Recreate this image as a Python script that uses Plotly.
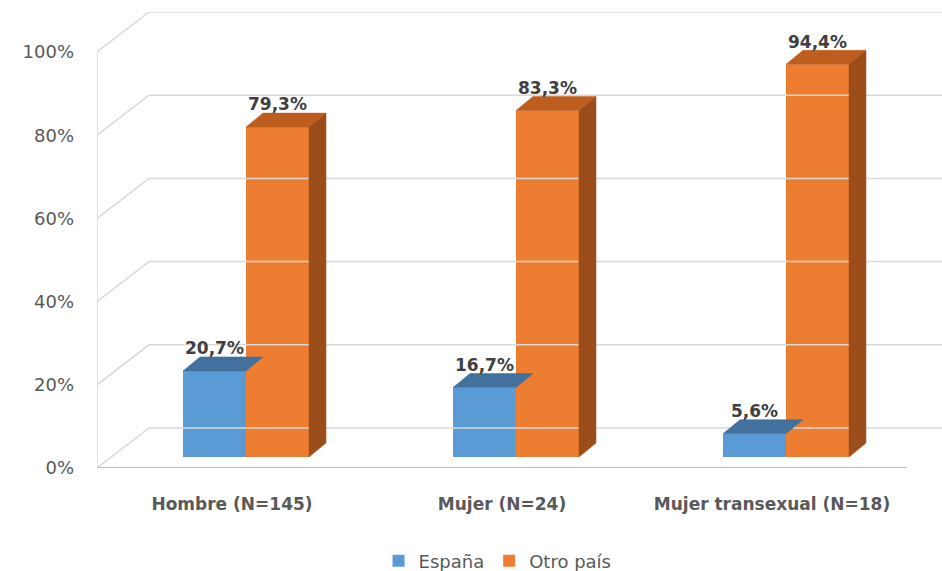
import plotly.graph_objects as go

categories = ["Hombre (N=145)", "Mujer (N=24)", "Mujer transexual (N=18)"]
espana = [20.7, 16.7, 5.6]
otro = [79.3, 83.3, 94.4]
espana_labels = ["20,7%", "16,7%", "5,6%"]
otro_labels = ["79,3%", "83,3%", "94,4%"]
y_ticks = [0, 20, 40, 60, 80, 100]

# geometry (axis units)
PX_Y = 4.16          # px per percent
PX_X = 270.0         # px per category
wall_dx, wall_dy = 52 / PX_X, 40 / PX_Y
bar_dx, bar_dy = 17 / PX_X, 14 / PX_Y
bar_shift_x, bar_base = 14 / PX_X, 11 / PX_Y
bar_w = 63 / PX_X

BLUE, BLUE_TOP = "#5B9BD5", "#41719C"
OR, OR_TOP, OR_SIDE = "#ED7D31", "#BE5E1E", "#9C4E1A"
GRID = "#D9D9D9"
FONT = "DejaVu Sans"

fig = go.Figure()

# walls / gridlines
x_left, x_right = -0.5, 2.5
for v in y_ticks:
    fig.add_trace(go.Scatter(x=[x_left, x_left + wall_dx, x_right + wall_dx + 0.5],
                             y=[v, v + wall_dy, v + wall_dy], mode="lines",
                             line=dict(color=GRID, width=1.5), hoverinfo="skip", showlegend=False))
fig.add_trace(go.Scatter(x=[x_left, x_left], y=[0, 100], mode="lines",
                         line=dict(color=GRID, width=1.5), hoverinfo="skip", showlegend=False))

n = len(categories)
xb = [i + bar_shift_x - 0.5 * bar_w for i in range(n)]
xo = [i + bar_shift_x + 0.5 * bar_w for i in range(n)]

fig.add_trace(go.Bar(x=xb, y=espana, base=bar_base, width=bar_w, name="España",
                     marker=dict(color=BLUE, line=dict(width=0))))
fig.add_trace(go.Bar(x=xo, y=otro, base=bar_base, width=bar_w, name="Otro país",
                     marker=dict(color=OR, line=dict(width=0))))

def poly(xs, ys, color):
    fig.add_trace(go.Scatter(x=xs + [xs[0]], y=ys + [ys[0]], fill="toself", fillcolor=color,
                             mode="lines", line=dict(color=color, width=0.5),
                             hoverinfo="skip", showlegend=False))

for i in range(n):
    # blue top
    l, r = xb[i] - bar_w / 2, xb[i] + bar_w / 2
    t = espana[i] + bar_base
    poly([l, r, r + bar_dx, l + bar_dx], [t, t, t + bar_dy, t + bar_dy], BLUE_TOP)
    # orange top + side
    l, r = xo[i] - bar_w / 2, xo[i] + bar_w / 2
    t = otro[i] + bar_base
    poly([l, r, r + bar_dx, l + bar_dx], [t, t, t + bar_dy, t + bar_dy], OR_TOP)
    poly([r, r + bar_dx, r + bar_dx, r], [bar_base, bar_base + bar_dy, t + bar_dy, t], OR_SIDE)

# front floor line
fig.add_trace(go.Scatter(x=[x_left, x_right], y=[0, 0], mode="lines",
                         line=dict(color="#BFBFBF", width=2), hoverinfo="skip", showlegend=False))

lab_off = 21 / PX_Y
for xs, vals, labs in ((xb, espana, espana_labels), (xo, otro, otro_labels)):
    fig.add_trace(go.Scatter(x=xs, y=[v + bar_base + lab_off for v in vals], mode="text",
                             text=[f"<b>{s}</b>" for s in labs],
                             textfont=dict(size=17, color="#404040", family=FONT),
                             hoverinfo="skip", showlegend=False, cliponaxis=False))

fig.update_layout(
    width=942, height=571,
    margin=dict(l=97, r=0, t=12, b=103, autoexpand=False),
    paper_bgcolor="white", plot_bgcolor="white",
    font=dict(family=FONT, color="#595959"),
    barmode="overlay",
    xaxis=dict(range=[-0.5, (942 - 232) / PX_X], showgrid=False, zeroline=False, showline=False,
               tickvals=list(range(n)), ticktext=[f"<b>{c}</b>" for c in categories],
               tickfont=dict(size=17, color="#595959"), ticks="", ticklabelstandoff=24,
               automargin=False),
    yaxis=dict(range=[0, 456 / PX_Y], showgrid=False, zeroline=False, showline=False,
               tickvals=y_ticks, ticktext=[f"{v}%" for v in y_ticks],
               tickfont=dict(size=18, color="#595959"), ticks="", ticklabelstandoff=22,
               automargin=False),
    legend=dict(orientation="h", x=0.474, xanchor="center", yref="container", y=0.0175,
                yanchor="middle", font=dict(size=18, color="#595959"), itemwidth=30,
                traceorder="normal"),
    showlegend=True,
)

fig.write_html("out.html")
